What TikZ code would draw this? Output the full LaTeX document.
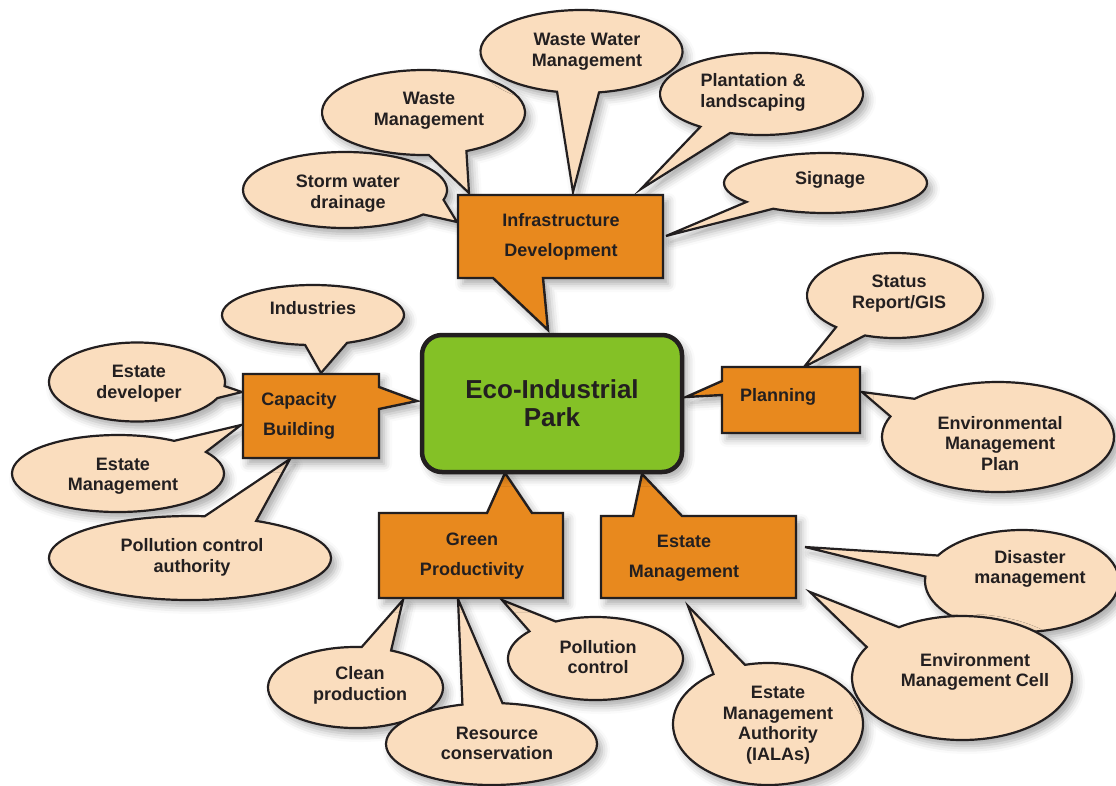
\documentclass[tikz,border=0pt]{standalone}
\usepackage{fontspec}
\setmainfont{Liberation Sans}
\usetikzlibrary{calc,shadows.blur}

\definecolor{boxorange}{RGB}{232,137,30}
\definecolor{bubblefill}{RGB}{250,221,190}
\definecolor{parkgreen}{RGB}{132,193,38}
\definecolor{inkdark}{RGB}{35,31,32}

\tikzset{
  softshadow/.style={blur shadow={shadow xshift=5pt, shadow yshift=-6pt,
      shadow blur radius=8pt, shadow opacity=34}},
  bubble/.style={softshadow, fill=bubblefill, draw=inkdark, line width=2.2pt, line join=miter},
  orangebox/.style={softshadow, fill=boxorange, draw=inkdark, line width=2.4pt, line join=miter},
  parkbox/.style={softshadow, fill=parkgreen, draw=inkdark, line width=4.5pt,
      rounded corners=20pt, minimum width=260pt, minimum height=137pt,
      text=inkdark, font=\bfseries\fontsize{26}{28}\selectfont, align=center},
  bubbletext/.style={text=inkdark, font=\bfseries\fontsize{18}{20.5}\selectfont,
      align=center, inner sep=0pt, yshift=-1.5pt},
  boxtext/.style={text=inkdark, font=\bfseries\fontsize{18}{30}\selectfont,
      align=center, inner sep=0pt, yshift=-1pt},
}

% speech bubble: #1 centre, #2 x radius, #3 y radius,
% #4/#5 parameter angles where the pointer leaves the ellipse, #6 pointer tip
\newcommand\speechbubble[6]{%
  \path[bubble] ($#1+(#4:#2 and #3)$) -- #6 -- ($#1+(#5:#2 and #3)$)
    arc[start angle=#5, end angle=#4+360, x radius=#2, y radius=#3] -- cycle;}

\begin{document}
\begin{tikzpicture}[x=1pt,y=-1pt]
\useasboundingbox (0,0) rectangle (1116,785);

% ---------- bubbles around Infrastructure Development
\coordinate (tipSWD) at (457,222);
\coordinate (tipWM)  at (469,193);
\coordinate (tipWWM) at (573,192);
\coordinate (tipPL)  at (641,189);
\coordinate (tipSG)  at (666,236);
\speechbubble{(423.5,112.5)}{101.5}{42.5}{65}{87}{(tipWM)}
\speechbubble{(345,190)}{102}{38}{15}{40}{(tipSWD)}
\speechbubble{(581.5,51.5)}{101}{41.5}{80}{104}{(tipWWM)}
\speechbubble{(761.5,94)}{101.5}{41}{108}{127}{(tipPL)}
\speechbubble{(825.5,183)}{101.5}{30}{121}{141}{(tipSG)}
\node[bubbletext] (swd) at (348,192) {Storm water\\drainage};
\node[bubbletext] (wm)  at (429,109) {Waste\\Management};
\node[bubbletext] (wwm) at (587,50)  {Waste Water\\Management};
\node[bubbletext] (pl)  at (753,91)  {Plantation \&\\landscaping};
\node[bubbletext] (sg)  at (830,178) {Signage};

% ---------- bubbles around Planning
\coordinate (tipSR)  at (804,367);
\coordinate (tipEMP) at (862,392);
\speechbubble{(895,295.5)}{88}{42.5}{110}{132}{(tipSR)}
\speechbubble{(998,437)}{116}{55}{202}{224}{(tipEMP)}
\node[bubbletext] (sr)  at (899,292)  {Status\\Report/GIS};
\node[bubbletext] (emp) at (1000,442) {Environmental\\Management\\Plan};

% ---------- bubbles around Capacity Building
\coordinate (tipIN)  at (321,373);
\coordinate (tipED)  at (242,392);
\coordinate (tipEML) at (241,425);
\coordinate (tipPCA) at (290,459);
\speechbubble{(313,315)}{91}{30}{68}{95}{(tipIN)}
\speechbubble{(137,382)}{88}{39.5}{6}{24}{(tipED)}
\speechbubble{(118,473.5)}{106}{38.5}{302}{326}{(tipEML)}
\speechbubble{(190,558)}{141}{42}{276}{298}{(tipPCA)}
\node[bubbletext] (in)  at (313,307)   {Industries};
\node[bubbletext] (ed)  at (139,382)   {Estate\\developer};
\node[bubbletext] (eml) at (123,474.5) {Estate\\Management};
\node[bubbletext] (pca) at (192,556)   {Pollution control\\authority};

% ---------- bubbles around Green Productivity
\coordinate (tipCP) at (403,600);
\coordinate (tipRC) at (458,599);
\coordinate (tipPC) at (502,600);
\speechbubble{(355.5,687.5)}{87.5}{40.5}{274}{294}{(tipCP)}
\speechbubble{(491.5,744)}{105.5}{41}{254}{276}{(tipRC)}
\speechbubble{(595.5,658.5)}{87.5}{41.5}{221}{243}{(tipPC)}
\node[bubbletext] (cp) at (360,684)   {Clean\\production};
\node[bubbletext] (rc) at (497,742)   {Resource\\conservation};
\node[bubbletext] (pc) at (598,655.5) {Pollution\\control};

% ---------- bubbles around Estate Management
\coordinate (tipDM)  at (805,547);
\coordinate (tipEMA) at (688,606);
\coordinate (tipEMC) at (810,592);
\speechbubble{(1022,581)}{97}{51}{185}{210}{(tipDM)}
\speechbubble{(768,724)}{95}{61}{235}{256}{(tipEMA)}
\speechbubble{(962,678)}{110}{62}{210}{235}{(tipEMC)}
\node[bubbletext] (dm)  at (1030,567.5) {Disaster\\management};
\node[bubbletext] (ema) at (778,723.5)  {Estate\\Management\\Authority\\(IALAs)};
\node[bubbletext] (emc) at (975,670.5)  {Environment\\Management Cell};

% ---------- orange callout boxes pointing at the park
\path[orangebox] (458,195) -- (663,195) -- (663,278) -- (543,278) -- (548,330)
  -- (493,278) -- (458,278) -- cycle;
\node[boxtext] (infra) at (561,235.5) {Infrastructure\\Development};

\path[orangebox] (243,374) -- (379,374) -- (379,387) -- (417,401) -- (379,409)
  -- (379,458) -- (243,458) -- cycle;
\node[boxtext] (cap) at (299,415) {Capacity\\Building};

\path[orangebox] (722,367) -- (860,367) -- (860,433) -- (722,433) -- (722,395)
  -- (686,397) -- (722,381) -- cycle;
\node[boxtext] (plan) at (778,396) {Planning};

\path[orangebox] (379,513) -- (487,513) -- (505,473) -- (532,513) -- (563,513)
  -- (563,598) -- (379,598) -- cycle;
\node[boxtext] (green) at (472,555) {Green\\Productivity};

\path[orangebox] (601,516) -- (633,516) -- (642,474) -- (682,516) -- (796,516)
  -- (796,598) -- (601,598) -- cycle;
\node[boxtext] (estate) at (684,557) {Estate\\Management};

% ---------- centre
\node[parkbox] (park) at (552,403.5) {Eco-Industrial\\Park};
\end{tikzpicture}
\end{document}
